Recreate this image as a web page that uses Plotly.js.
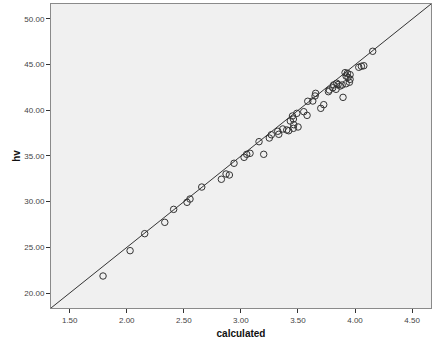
<!DOCTYPE html>
<html>
<head>
<meta charset="utf-8">
<script src="https://cdn.plot.ly/plotly-3.0.1.min.js"></script>
<style>
  html, body { margin: 0; padding: 0; background: #ffffff; }
  #chart { width: 436px; height: 339px; }
</style>
</head>
<body>
<div id="chart"></div>
<script>
// Observed points: calculated (x) vs hv (y)
const calculated = [
    1.792, 2.029, 2.157, 2.333, 2.411, 2.528, 2.554, 2.657, 2.829, 2.870,
    2.899, 2.940, 3.028, 3.051, 3.080, 3.200, 3.159, 3.249, 3.267, 3.332,
    3.323, 3.367, 3.402, 3.419, 3.460, 3.501, 3.433, 3.460, 3.463, 3.452,
    3.490, 3.551, 3.580, 3.586, 3.630, 3.700, 3.726, 3.655, 3.650, 3.813,
    3.852, 4.155, 4.033, 4.056, 4.077, 3.913, 3.933, 3.957, 3.922, 3.939,
    3.957, 3.951, 3.922, 3.887, 3.869, 3.840, 3.834, 3.805, 3.775, 3.767,
    3.895
];
const hv = [
    21.86, 24.63, 26.49, 27.73, 29.15, 29.92, 30.28, 31.59, 32.44, 33.02,
    32.91, 34.19, 34.84, 35.17, 35.28, 35.17, 36.55, 36.95, 37.31, 37.36,
    37.69, 37.94, 37.83, 37.75, 38.01, 38.16, 38.81, 39.03, 38.41, 39.36,
    39.65, 39.83, 39.43, 40.97, 41.00, 40.20, 40.60, 41.84, 41.55, 42.76,
    42.80, 46.44, 44.69, 44.80, 44.86, 44.10, 44.03, 43.88, 43.73, 43.59,
    43.37, 43.05, 42.89, 42.75, 42.64, 42.94, 42.28, 42.45, 42.20, 42.02,
    41.40
];

// Reference diagonal (corner to corner of the plot frame)
const refLineX = [1.336, 4.666];
const refLineY = [18.36, 51.61];

const xTicks = [1.5, 2.0, 2.5, 3.0, 3.5, 4.0, 4.5];
const xTickLabels = ['1.50', '2.00', '2.50', '3.00', '3.50', '4.00', '4.50'];
const yTicks = [20, 25, 30, 35, 40, 45, 50];
const yTickLabels = ['20.00', '25.00', '30.00', '35.00', '40.00', '45.00', '50.00'];

const traces = [
    {
        x: refLineX,
        y: refLineY,
        type: 'scatter',
        mode: 'lines',
        line: { color: '#333333', width: 1 },
        hoverinfo: 'skip'
    },
    {
        x: calculated,
        y: hv,
        type: 'scatter',
        mode: 'markers',
        marker: {
            symbol: 'circle-open',
            size: 6.5,
            color: '#333333',
            line: { width: 1, color: '#333333' }
        }
    }
];

const axisFont = { family: 'Liberation Sans, Arial, sans-serif', size: 8, color: '#444444' };

const layout = {
    width: 436,
    height: 339,
    margin: { l: 51, r: 5, t: 4, b: 31, pad: 0 },
    showlegend: false,
    paper_bgcolor: '#ffffff',
    plot_bgcolor: '#f0f0f0',
    font: { family: 'Liberation Sans, Arial, sans-serif' },
    xaxis: {
        range: [1.336, 4.666],
        tickvals: xTicks,
        ticktext: xTickLabels,
        ticks: 'outside',
        ticklen: 4,
        tickcolor: '#333333',
        tickfont: axisFont,
        showgrid: false,
        zeroline: false,
        showline: true,
        linecolor: '#8a8a8a',
        linewidth: 1,
        mirror: true,
        automargin: false,
        title: {
            text: '<b>calculated</b>',
            font: { family: 'Liberation Sans, Arial, sans-serif', size: 10, color: '#111111' },
            standoff: 6
        }
    },
    yaxis: {
        range: [18.36, 51.61],
        tickvals: yTicks,
        ticktext: yTickLabels,
        ticks: 'outside',
        ticklen: 4,
        tickcolor: '#333333',
        tickfont: axisFont,
        showgrid: false,
        zeroline: false,
        showline: true,
        linecolor: '#8a8a8a',
        linewidth: 1,
        mirror: true,
        automargin: false,
        title: {
            text: '<b>hv</b>',
            font: { family: 'Liberation Sans, Arial, sans-serif', size: 10, color: '#111111' },
            standoff: 1
        }
    }
};

Plotly.newPlot('chart', traces, layout, { displayModeBar: false, staticPlot: true });
</script>
</body>
</html>
